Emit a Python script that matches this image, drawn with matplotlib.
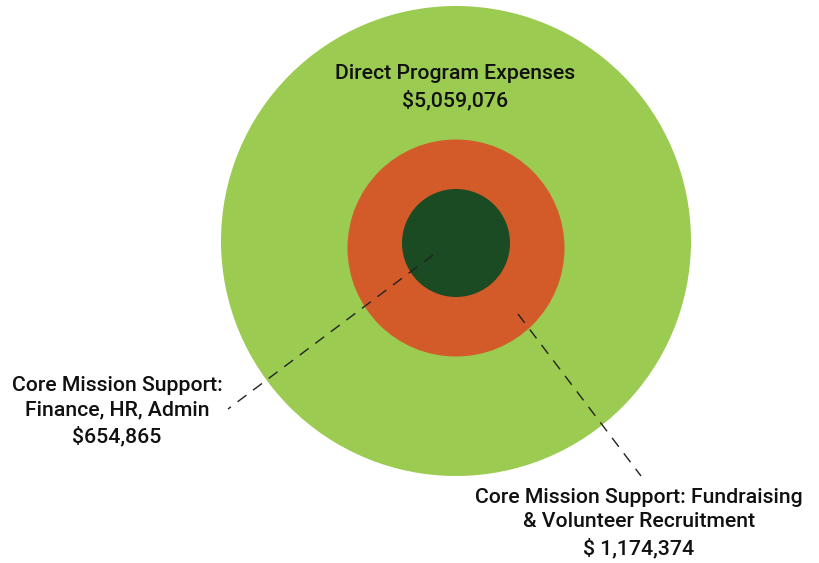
import matplotlib
matplotlib.use("Agg")
import matplotlib.pyplot as plt
from matplotlib.patches import Circle

# Data
categories = ["Direct Program Expenses",
              "Core Mission Support: Fundraising\n& Volunteer Recruitment",
              "Core Mission Support:\nFinance, HR, Admin"]
values = [5059076, 1174374, 654865]
value_labels = ["$5,059,076", "$ 1,174,374", "$654,865"]

colors = ["#9BCB50", "#D35B2A", "#1A4B23"]

plt.rcParams['font.family'] = ['Roboto', 'DejaVu Sans']

fig = plt.figure(figsize=(8.2, 5.63), dpi=100)
ax = fig.add_axes([0, 0, 1, 1])
ax.set_xlim(0, 820)
ax.set_ylim(563, 0)
ax.set_aspect('equal')
ax.axis('off')

# circles (center, radius) layout
centers = [(456, 241), (456, 248), (456, 243)]
radii = [235, 108.5, 54]
for c, r, col in zip(centers, radii, colors):
    ax.add_patch(Circle(c, r, facecolor=col, edgecolor='none'))

# leader lines
ax.plot([433, 228], [255, 409], color='#222222', lw=1, ls=(0, (8, 6)))
ax.plot([518, 641], [314, 476], color='#222222', lw=1, ls=(0, (8, 6)))

fs = 15.3
kw = dict(ha='center', va='center', fontsize=fs, linespacing=1.38,
          color='#111111', fontweight='medium')
ax.text(455, 87, categories[0] + "\n" + value_labels[0], **kw)
ax.text(117, 411, categories[2] + "\n" + value_labels[2], **kw)
ax.text(639, 523, categories[1] + "\n" + value_labels[1], **kw)

fig.savefig("out.png", dpi=100)
